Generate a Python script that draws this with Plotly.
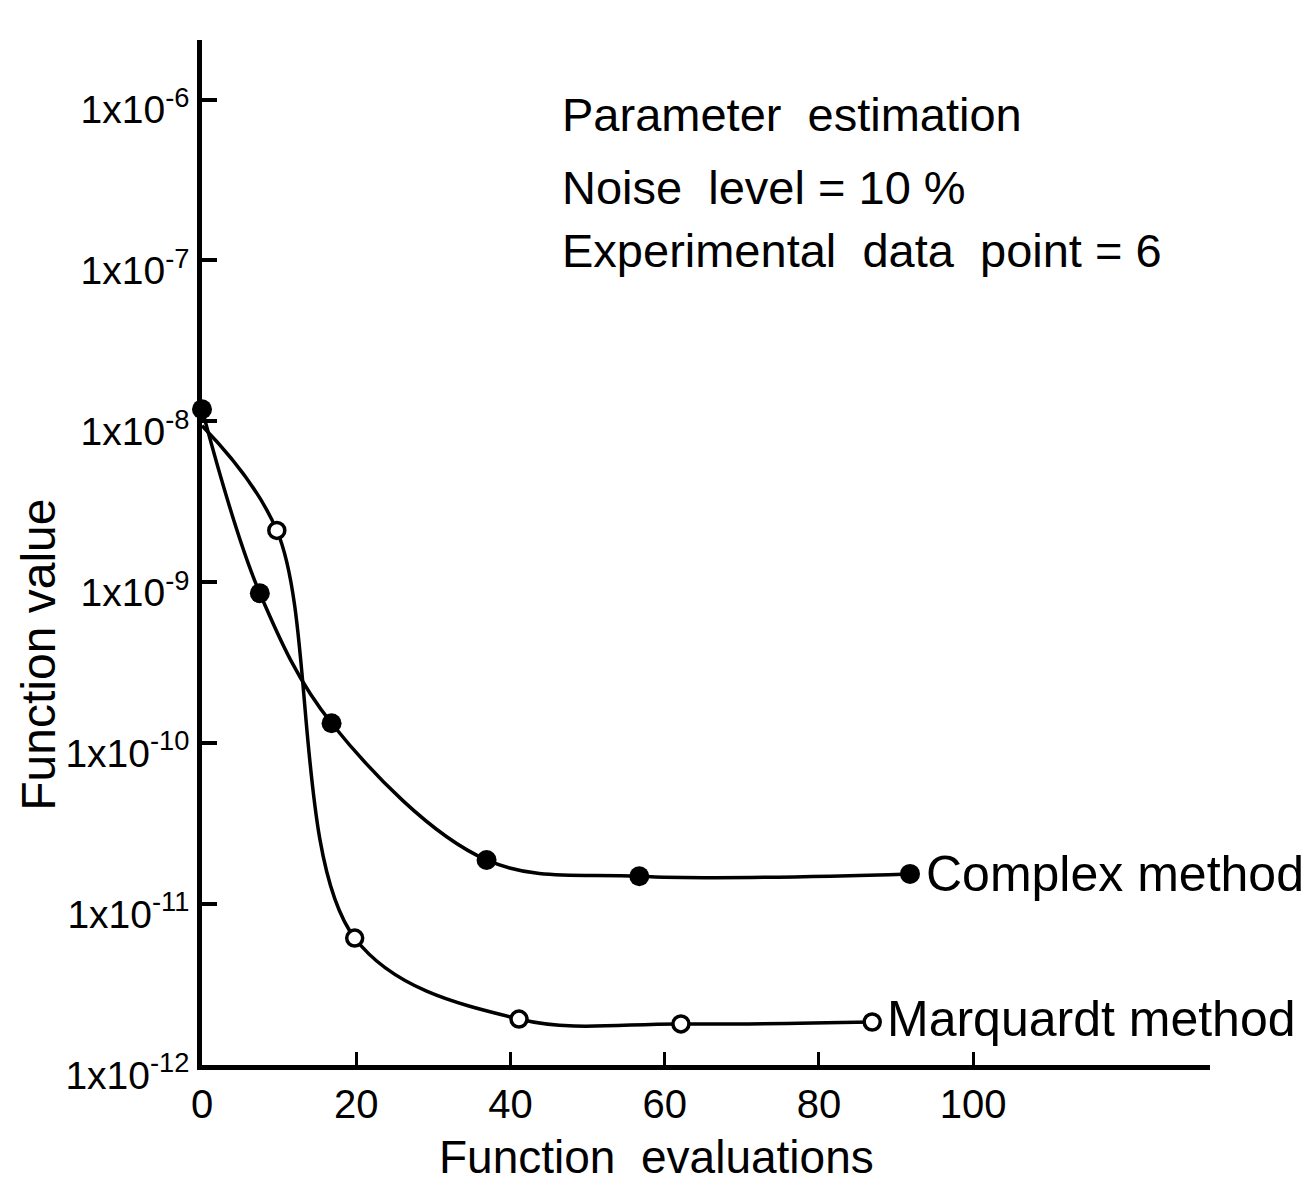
import math
import plotly.graph_objects as go

# Data
complex_x = [0, 7.5, 16.8, 36.9, 56.7, 91.8]
complex_y = [1.19e-8, 8.55e-10, 1.33e-10, 1.88e-11, 1.49e-11, 1.54e-11]

marq_x = [0, 9.7, 19.8, 41.1, 62.1, 86.9]
marq_y = [9.4e-9, 2.1e-9, 6.15e-12, 1.93e-12, 1.80e-12, 1.85e-12]

y_tickvals = [1e-12, 1e-11, 1e-10, 1e-9, 1e-8, 1e-7, 1e-6]
y_ticktext = ["1x10<sup>-12</sup>", "1x10<sup>-11</sup>", "1x10<sup>-10</sup>",
              "1x10<sup>-9</sup>", "1x10<sup>-8</sup>", "1x10<sup>-7</sup>",
              "1x10<sup>-6</sup>"]
x_tickvals = [0, 20, 40, 60, 80, 100]
x_ticktext = ["0", "20", "40", "60", "80", "100"]

FONT = "Liberation Sans"

fig = go.Figure()

fig.add_trace(go.Scatter(
    x=complex_x, y=complex_y, mode="lines+markers",
    line=dict(color="black", width=3.5, shape="spline", smoothing=1.0),
    marker=dict(symbol="circle", size=20, color="black"),
    cliponaxis=False, showlegend=False, name="Complex method"))

fig.add_trace(go.Scatter(
    x=marq_x, y=marq_y, mode="lines",
    line=dict(color="black", width=3.5, shape="spline", smoothing=1.0),
    cliponaxis=False, showlegend=False, name="Marquardt method"))

fig.add_trace(go.Scatter(
    x=marq_x[1:], y=marq_y[1:], mode="markers",
    marker=dict(symbol="circle", size=16, color="white",
                line=dict(color="black", width=3.5)),
    cliponaxis=False, showlegend=False, name="Marquardt method pts"))

fig.update_layout(
    width=1303, height=1184,
    margin=dict(l=194, r=101, t=32, b=127),
    paper_bgcolor="white", plot_bgcolor="white",
    font=dict(family=FONT, color="black"),
    xaxis=dict(range=[0, 130.7], tickvals=x_tickvals, ticktext=x_ticktext,
               showgrid=False, zeroline=False, showline=True,
               linecolor="black", linewidth=4.5,
               ticks="inside", ticklen=13, tickwidth=3, tickcolor="black",
               tickfont=dict(size=40, family=FONT)),
    yaxis=dict(type="log", range=[-12, -5.63], tickvals=y_tickvals,
               ticktext=y_ticktext, showgrid=False, zeroline=False,
               showline=True, linecolor="black", linewidth=4.5,
               ticks="inside", ticklen=15, tickwidth=3.5, tickcolor="black",
               ticklabelshift=10,
               tickfont=dict(size=39, family=FONT)),
)

ann_font = dict(family=FONT, size=47, color="black")
annotations = [
    dict(text="Parameter  estimation", x=0.355, y=0.927),
    dict(text="Noise  level = 10 %", x=0.355, y=0.856),
    dict(text="Experimental  data  point = 6", x=0.355, y=0.795),
]
for a in annotations:
    fig.add_annotation(xref="paper", yref="paper", xanchor="left",
                       yanchor="middle", showarrow=False, font=ann_font, **a)

fig.add_annotation(x=complex_x[-1], y=math.log10(complex_y[-1]), xref="x", yref="y",
                   text="Complex method", xanchor="left", yanchor="middle",
                   showarrow=False, xshift=14, yshift=0,
                   font=dict(family=FONT, size=50, color="black"))
fig.add_annotation(x=marq_x[-1], y=math.log10(marq_y[-1]), xref="x", yref="y",
                   text="Marquardt method", xanchor="left", yanchor="middle",
                   showarrow=False, xshift=13, yshift=3,
                   font=dict(family=FONT, size=50, color="black"))

fig.add_annotation(xref="paper", yref="paper", x=-0.163, y=0.40,
                   text="Function value", textangle=-90, showarrow=False,
                   xanchor="center", yanchor="middle",
                   font=dict(family=FONT, size=48, color="black"))
fig.add_annotation(xref="paper", yref="paper", x=0.451, y=-0.09,
                   text="Function  evaluations", showarrow=False,
                   xanchor="center", yanchor="middle",
                   font=dict(family=FONT, size=46, color="black"))

fig.write_html("out.html")
